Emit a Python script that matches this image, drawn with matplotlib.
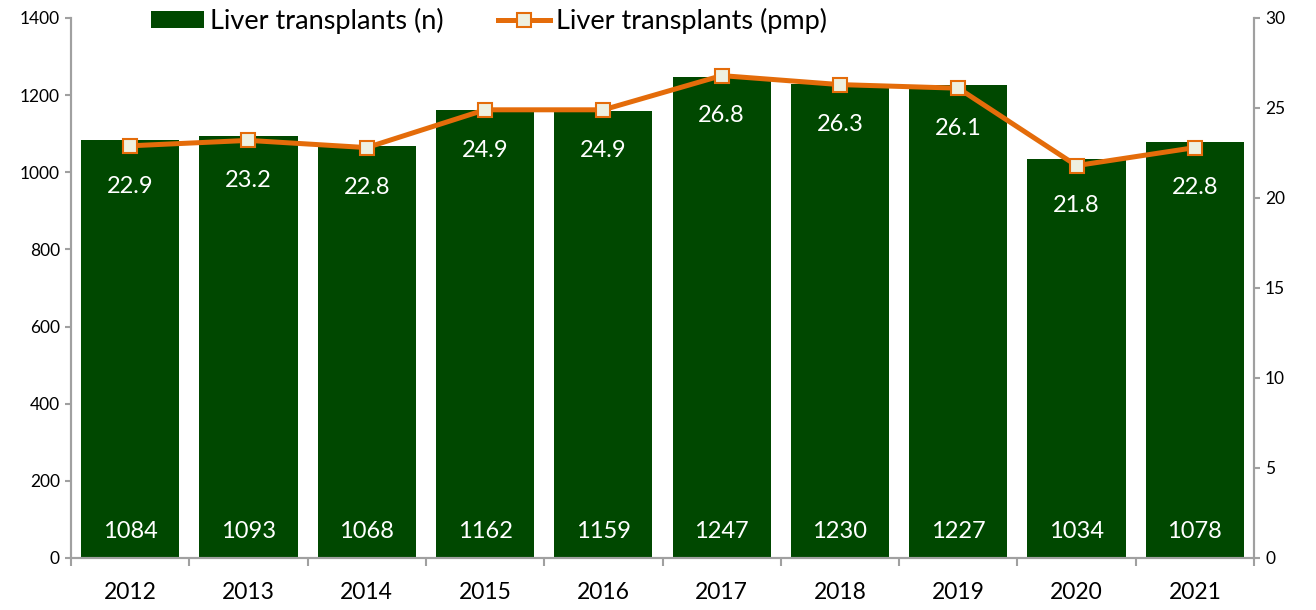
import matplotlib
matplotlib.use("Agg")
import matplotlib.pyplot as plt
from matplotlib.ticker import FixedLocator

plt.rcParams['font.family'] = ['Lato', 'DejaVu Sans']

years = ['2012', '2013', '2014', '2015', '2016', '2017', '2018', '2019', '2020', '2021']
transplants_n = [1084, 1093, 1068, 1162, 1159, 1247, 1230, 1227, 1034, 1078]
transplants_pmp = [22.9, 23.2, 22.8, 24.9, 24.9, 26.8, 26.3, 26.1, 21.8, 22.8]

bar_color = '#004800'
line_color = '#e46c0a'
marker_face = '#eef0e0'
gray = '#a0a0a0'

fig = plt.figure(figsize=(13.16, 6.10), dpi=100)
ax = fig.add_axes([71/1316, 1 - 558/610, (1254-71)/1316, (558-18)/610])
ax2 = ax.twinx()

x = list(range(len(years)))
bars = ax.bar(x, transplants_n, width=0.83, color=bar_color, zorder=2)
ax.set_xlim(-0.5, len(years) - 0.5)
ax.set_ylim(0, 1400)
ax.set_yticks(range(0, 1401, 200))
ax2.set_ylim(0, 30)
ax2.set_yticks(range(0, 31, 5))

line, = ax2.plot(x, transplants_pmp, color=line_color, lw=3.6, marker='s', ms=10,
                 mfc=marker_face, mec=line_color, mew=1.5, zorder=3)

for xi, n in zip(x, transplants_n):
    ax.text(xi, 70, str(n), ha='center', va='center', color='white', fontsize=17)
for xi, p in zip(x, transplants_pmp):
    ax2.annotate(f'{p:.1f}', (xi, p), xytext=(0, -29), textcoords='offset points',
                 ha='center', va='center', color='white', fontsize=17)

ax.set_xticks(x)
ax.set_xticklabels(years, fontsize=16.5)
ax.xaxis.set_minor_locator(FixedLocator([i - 0.5 for i in range(len(years) + 1)]))
ax.tick_params(axis='x', which='major', length=0, pad=17)
ax.tick_params(axis='x', which='minor', length=6, color=gray, width=1.5)
ax.tick_params(axis='y', labelsize=12.5, length=4.5, color=gray, width=1.5)
ax2.tick_params(axis='y', labelsize=12.5, length=4.5, color=gray, width=1.5)

for a in (ax, ax2):
    a.spines['top'].set_visible(False)
    for s in ('left', 'right', 'bottom'):
        a.spines[s].set_color(gray)
        a.spines[s].set_linewidth(1.5)

leg = fig.legend([bars, line], ['Liver transplants (n)', 'Liver transplants (pmp)'],
                 loc='center left', bbox_to_anchor=(151/1316, 1 - 21/610), ncol=2, frameon=False,
                 fontsize=19.5, handlelength=1.95, handleheight=0.6, handletextpad=0.22,
                 columnspacing=2.0, borderpad=0, borderaxespad=0)

fig.savefig('out.png', dpi=100)
